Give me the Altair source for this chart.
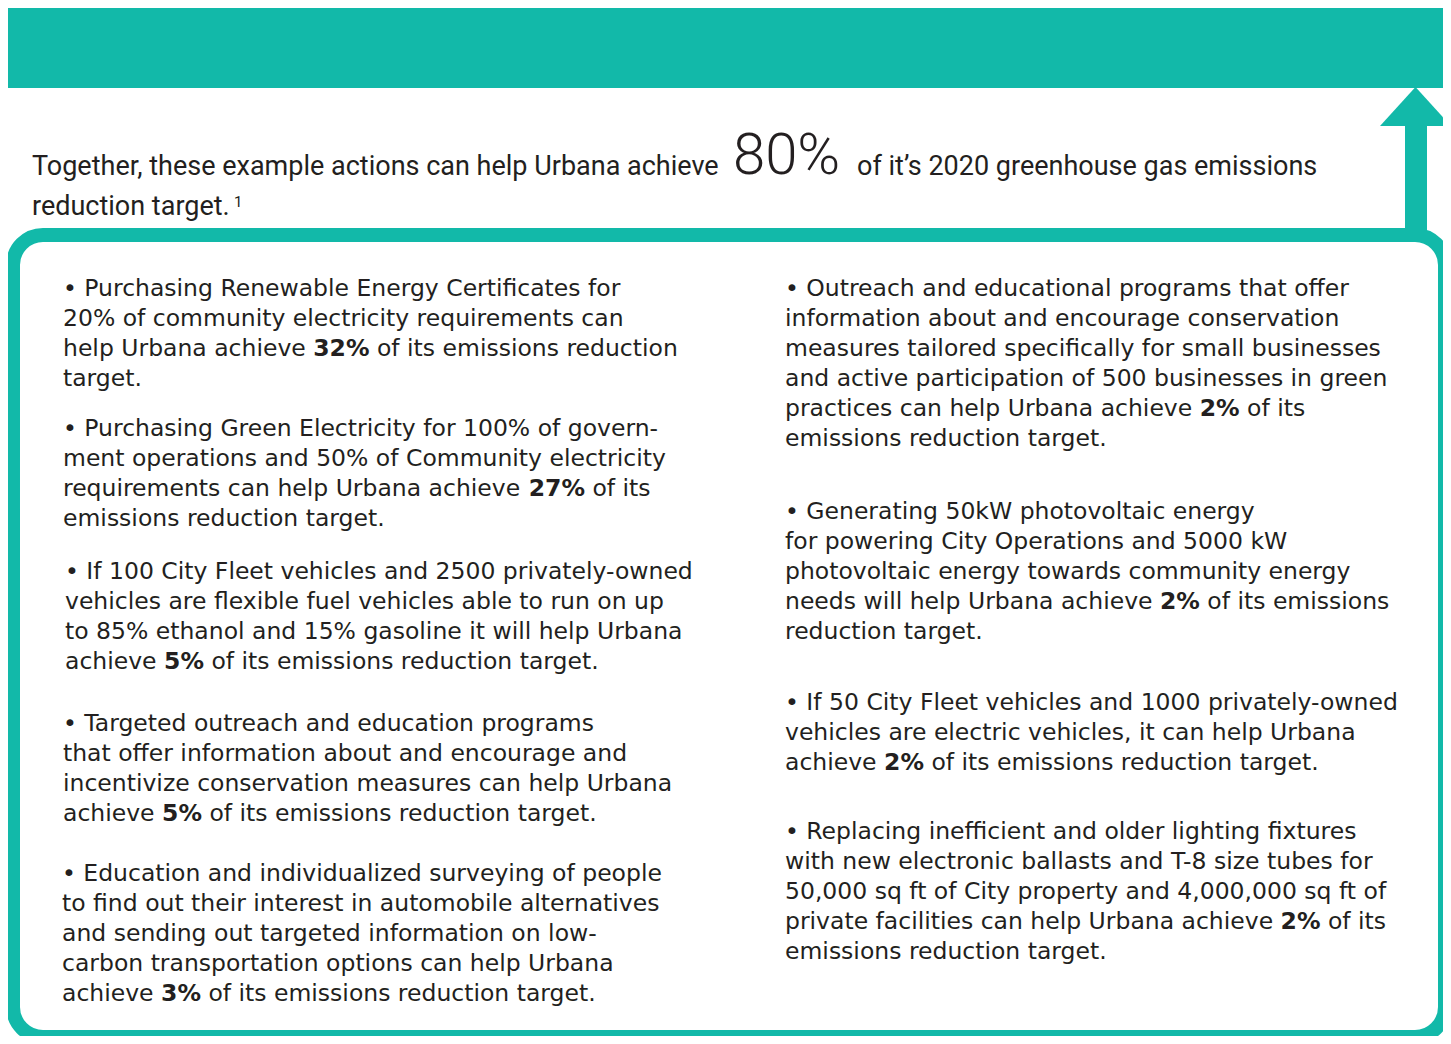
import altair as alt
import pandas as pd

TEAL = "#12b9a9"
INK = "#231f20"

# ---------------- content ----------------
head_texts = ["Together, these example actions can help Urbana achieve", "80%",
              "of it\u2019s 2020 greenhouse gas emissions", "reduction target.", "1"]
head_x = [32, 733, 857, 32, 234]
head_y = [175, 174, 175, 215, 207]
head_size = [27, 58, 27, 27, 15]
head_weight = ["normal", "300", "normal", "normal", "normal"]

left_paras = [
    ["\u2022 Purchasing Renewable Energy Certificates for",
     "20% of community electricity requirements can",
     "help Urbana achieve **32%** of its emissions reduction",
     "target."],
    ["\u2022 Purchasing Green Electricity for 100% of govern-",
     "ment operations and 50% of Community electricity",
     "requirements can help Urbana achieve **27%** of its",
     "emissions reduction target."],
    ["\u2022 If 100 City Fleet vehicles and 2500 privately-owned",
     "vehicles are flexible fuel vehicles able to run on up",
     "to 85% ethanol and 15% gasoline it will help Urbana",
     "achieve **5%** of its emissions reduction target."],
    ["\u2022 Targeted outreach and education programs",
     "that offer information about and encourage and",
     "incentivize conservation measures can help Urbana",
     "achieve **5%** of its emissions reduction target."],
    ["\u2022 Education and individualized surveying of people",
     "to find out their interest in automobile alternatives",
     "and sending out targeted information on low-",
     "carbon transportation options can help Urbana",
     "achieve **3%** of its emissions reduction target."],
]
left_x = [63, 63, 65, 63, 62]
left_y0 = [296, 436, 579, 731, 881]

right_paras = [
    ["\u2022 Outreach and educational programs that offer",
     "information about and encourage conservation",
     "measures tailored specifically for small businesses",
     "and active participation of 500 businesses in green",
     "practices can help Urbana achieve **2%** of its",
     "emissions reduction target."],
    ["\u2022 Generating 50kW photovoltaic energy",
     "for powering City Operations and 5000 kW",
     "photovoltaic energy towards community energy",
     "needs will help Urbana achieve **2%** of its emissions",
     "reduction target."],
    ["\u2022 If 50 City Fleet vehicles and 1000 privately-owned",
     "vehicles are electric vehicles, it can help Urbana",
     "achieve **2%** of its emissions reduction target."],
    ["\u2022 Replacing inefficient and older lighting fixtures",
     "with new electronic ballasts and T-8 size tubes for",
     "50,000 sq ft of City property and 4,000,000 sq ft of",
     "private facilities can help Urbana achieve **2%** of its",
     "emissions reduction target."],
]
right_x = [785, 785, 785, 785]
right_y0 = [296, 519, 710, 839]

BODY_SIZE = 23.5
LINE_PITCH = 30

# DejaVu Sans advance widths (units per em = 2048), used to place bold runs
REG_W = dict(zip("abcdefghijklmnopqrstuvwxyz",
                 [1255, 1300, 1126, 1300, 1260, 721, 1300, 1298, 569, 569, 1186, 569, 1995,
                  1298, 1253, 1300, 1300, 842, 1067, 803, 1298, 1212, 1675, 1212, 1212, 1075]))
REG_W.update({" ": 651, "U": 1499, "%": 1946})
REG_W.update({d: 1303 for d in "0123456789"})
BOLD_W = {d: 1425 for d in "0123456789"}
BOLD_W.update({"%": 2052, " ": 713})


def width(s, table):
    return sum(table.get(c, 1200) for c in s) * BODY_SIZE / 2048.0


rows = []
for paras, xs, y0s in [(left_paras, left_x, left_y0), (right_paras, right_x, right_y0)]:
    for lines, x0, y0 in zip(paras, xs, y0s):
        for i, line in enumerate(lines):
            y = y0 + i * LINE_PITCH
            if "**" in line:
                pre, bold, post = line.split("**")
                xb = x0 + width(pre, REG_W)
                rows.append(dict(x=x0, y=y, text=pre.rstrip(), bold=False))
                rows.append(dict(x=xb, y=y, text=bold, bold=True))
                xp = xb + width(bold, BOLD_W) + width(" ", REG_W)
                rows.append(dict(x=xp, y=y, text=post.strip(), bold=False))
            else:
                rows.append(dict(x=x0, y=y, text=line, bold=False))
body = pd.DataFrame(rows)

head = pd.DataFrame(dict(x=head_x, y=head_y, text=head_texts, size=head_size,
                         weight=head_weight))

# shapes
bar = pd.DataFrame(dict(x=[6], x2=[1451], y=[2], y2=[88]))
box = pd.DataFrame(dict(x=[13], x2=[1445], y=[235], y2=[1037]))
shaft = pd.DataFrame(dict(x=[1405], x2=[1427], y=[124], y2=[240]))
tri = pd.DataFrame(dict(x=[1380, 1415.5, 1451], y=[126, 87, 126], y2=[126, 126, 126]))

W, H = 1435, 1028
XS = alt.Scale(domain=[8, 8 + W], nice=False, zero=False)
YS = alt.Scale(domain=[8, 8 + H], nice=False, zero=False, reverse=True)


def X(f="x"):
    return alt.X(f"{f}:Q", scale=XS, axis=None)


def Y(f="y"):
    return alt.Y(f"{f}:Q", scale=YS, axis=None)


bar_l = alt.Chart(bar).mark_rect(color=TEAL).encode(x=X(), x2="x2", y=Y(), y2="y2")
box_l = alt.Chart(box).mark_rect(fill="white", stroke=TEAL, strokeWidth=14,
                                 cornerRadius=30).encode(x=X(), x2="x2", y=Y(), y2="y2")
shaft_l = alt.Chart(shaft).mark_rect(color=TEAL).encode(x=X(), x2="x2", y=Y(), y2="y2")
tri_l = alt.Chart(tri).mark_area(color=TEAL, opacity=1).encode(x=X(), y=Y(), y2="y2")

head_reg = alt.Chart(head).transform_filter("datum.weight == 'normal'").mark_text(
    align="left", baseline="alphabetic", color=INK, font="Roboto"
).encode(x=X(), y=Y(), text="text:N", size=alt.Size("size:Q", scale=None, legend=None))
head_big = alt.Chart(head).transform_filter("datum.weight != 'normal'").mark_text(
    align="left", baseline="alphabetic", color=INK, font="Roboto", fontWeight=300
).encode(x=X(), y=Y(), text="text:N", size=alt.Size("size:Q", scale=None, legend=None))

body_reg = alt.Chart(body).transform_filter("!datum.bold").mark_text(
    align="left", baseline="alphabetic", color=INK, font="DejaVu Sans", fontSize=BODY_SIZE
).encode(x=X(), y=Y(), text="text:N")
body_bold = alt.Chart(body).transform_filter("datum.bold").mark_text(
    align="left", baseline="alphabetic", color=INK, font="DejaVu Sans", fontSize=BODY_SIZE,
    fontWeight="bold"
).encode(x=X(), y=Y(), text="text:N")

chart = alt.layer(bar_l, box_l, shaft_l, tri_l, head_reg, head_big, body_reg, body_bold).properties(
    width=W, height=H, padding=0, autosize=alt.AutoSizeParams(type="none"),
    background="white"
).configure_view(stroke=None)

chart.save("out.html", embed_options={"renderer": "svg", "actions": False})
